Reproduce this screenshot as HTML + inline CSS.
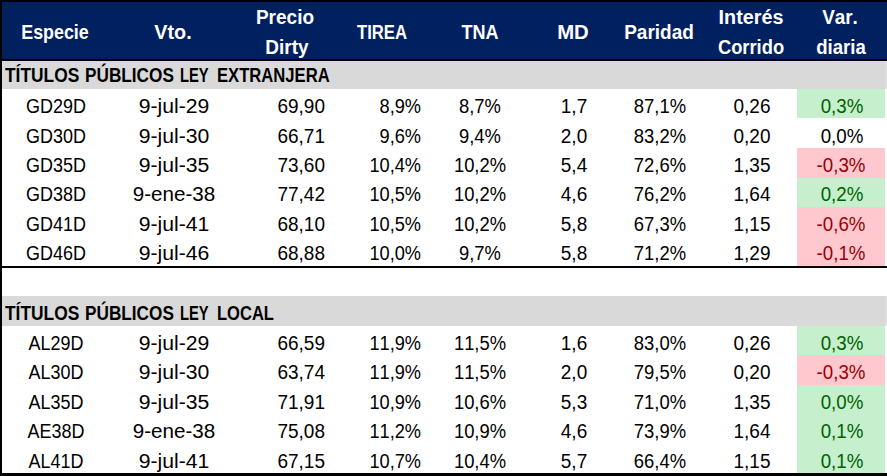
<!DOCTYPE html>
<html lang="es"><head><meta charset="utf-8"><title>Títulos Públicos</title>
<style>
html,body{margin:0;padding:0;background:#fff;}
body{width:887px;height:476px;overflow:hidden;position:relative;font-family:"Liberation Sans",sans-serif;}
#w{position:absolute;left:0;top:0;width:887px;height:476px;overflow:hidden;}
.b{position:absolute;}
.t{position:absolute;white-space:nowrap;font-kerning:none;font-variant-ligatures:none;line-height:24px;height:24px;}
</style></head><body><div id="w">
<div class="b" style="left:0px;top:0px;width:887px;height:476px;background:#000"></div>
<div class="b" style="left:2px;top:2px;width:885px;height:57px;background:#002060"></div>
<div class="b" style="left:2px;top:61px;width:885px;height:28px;background:#d9d9d9"></div>
<div class="b" style="left:2px;top:89px;width:885px;height:177px;background:#fff"></div>
<div class="b" style="left:2px;top:268px;width:885px;height:28px;background:#fff"></div>
<div class="b" style="left:2px;top:296px;width:885px;height:30px;background:#d9d9d9"></div>
<div class="b" style="left:2px;top:326px;width:885px;height:147px;background:#fff"></div>
<div class="b" style="left:886px;top:61px;width:1px;height:28px;background:#e4e4e4"></div>
<div class="b" style="left:886px;top:296px;width:1px;height:30px;background:#e4e4e4"></div>
<div class="b" style="left:797px;top:89px;width:88px;height:29px;background:#c6efce"></div>
<div class="t" style="left:-94.00px;top:94.14px;width:300px;text-align:center;color:#000;font-size:19.5px;transform:scaleX(0.9207692307692307);transform-origin:center center;">GD29D</div>
<div class="t" style="left:24.00px;top:94.14px;width:300px;text-align:center;color:#000;font-size:19.5px;transform:scaleX(1.0864102564102565);transform-origin:center center;">9-jul-29</div>
<div class="t" style="left:25.30px;top:94.14px;width:300px;text-align:right;color:#000;font-size:19.5px;transform:scaleX(0.9743589743589743);transform-origin:right center;">69,90</div>
<div class="t" style="left:121.30px;top:94.14px;width:300px;text-align:right;color:#000;font-size:19.5px;transform:scaleX(0.9334358974358974);transform-origin:right center;">8,9%</div>
<div class="t" style="left:330.00px;top:94.14px;width:300px;text-align:center;color:#000;font-size:19.5px;transform:scaleX(0.9431794871794872);transform-origin:center center;">8,7%</div>
<div class="t" style="left:424.00px;top:94.14px;width:300px;text-align:center;color:#000;font-size:19.5px;transform:scaleX(0.9743589743589743);transform-origin:center center;">1,7</div>
<div class="t" style="left:510.00px;top:94.14px;width:300px;text-align:center;color:#000;font-size:19.5px;transform:scaleX(0.9451282051282051);transform-origin:center center;">87,1%</div>
<div class="t" style="left:602.00px;top:94.14px;width:300px;text-align:center;color:#000;font-size:19.5px;transform:scaleX(0.9743589743589743);transform-origin:center center;">0,26</div>
<div class="t" style="left:691.50px;top:94.14px;width:300px;text-align:center;color:#006100;font-size:19.5px;transform:scaleX(0.9597435897435898);transform-origin:center center;">0,3%</div>
<div class="t" style="left:-94.00px;top:123.52px;width:300px;text-align:center;color:#000;font-size:19.5px;transform:scaleX(0.9207692307692307);transform-origin:center center;">GD30D</div>
<div class="t" style="left:24.00px;top:123.52px;width:300px;text-align:center;color:#000;font-size:19.5px;transform:scaleX(1.0864102564102565);transform-origin:center center;">9-jul-30</div>
<div class="t" style="left:25.30px;top:123.52px;width:300px;text-align:right;color:#000;font-size:19.5px;transform:scaleX(0.9743589743589743);transform-origin:right center;">66,71</div>
<div class="t" style="left:121.30px;top:123.52px;width:300px;text-align:right;color:#000;font-size:19.5px;transform:scaleX(0.9334358974358974);transform-origin:right center;">9,6%</div>
<div class="t" style="left:330.00px;top:123.52px;width:300px;text-align:center;color:#000;font-size:19.5px;transform:scaleX(0.9431794871794872);transform-origin:center center;">9,4%</div>
<div class="t" style="left:424.00px;top:123.52px;width:300px;text-align:center;color:#000;font-size:19.5px;transform:scaleX(0.9743589743589743);transform-origin:center center;">2,0</div>
<div class="t" style="left:510.00px;top:123.52px;width:300px;text-align:center;color:#000;font-size:19.5px;transform:scaleX(0.9451282051282051);transform-origin:center center;">83,2%</div>
<div class="t" style="left:602.00px;top:123.52px;width:300px;text-align:center;color:#000;font-size:19.5px;transform:scaleX(0.9743589743589743);transform-origin:center center;">0,20</div>
<div class="t" style="left:691.50px;top:123.52px;width:300px;text-align:center;color:#000;font-size:19.5px;transform:scaleX(0.9597435897435898);transform-origin:center center;">0,0%</div>
<div class="b" style="left:797px;top:148px;width:88px;height:30px;background:#ffc7ce"></div>
<div class="t" style="left:-94.00px;top:152.90px;width:300px;text-align:center;color:#000;font-size:19.5px;transform:scaleX(0.9207692307692307);transform-origin:center center;">GD35D</div>
<div class="t" style="left:24.00px;top:152.90px;width:300px;text-align:center;color:#000;font-size:19.5px;transform:scaleX(1.0864102564102565);transform-origin:center center;">9-jul-35</div>
<div class="t" style="left:25.30px;top:152.90px;width:300px;text-align:right;color:#000;font-size:19.5px;transform:scaleX(0.9743589743589743);transform-origin:right center;">73,60</div>
<div class="t" style="left:121.30px;top:152.90px;width:300px;text-align:right;color:#000;font-size:19.5px;transform:scaleX(0.9334358974358974);transform-origin:right center;">10,4%</div>
<div class="t" style="left:330.00px;top:152.90px;width:300px;text-align:center;color:#000;font-size:19.5px;transform:scaleX(0.9431794871794872);transform-origin:center center;">10,2%</div>
<div class="t" style="left:424.00px;top:152.90px;width:300px;text-align:center;color:#000;font-size:19.5px;transform:scaleX(0.9743589743589743);transform-origin:center center;">5,4</div>
<div class="t" style="left:510.00px;top:152.90px;width:300px;text-align:center;color:#000;font-size:19.5px;transform:scaleX(0.9451282051282051);transform-origin:center center;">72,6%</div>
<div class="t" style="left:602.00px;top:152.90px;width:300px;text-align:center;color:#000;font-size:19.5px;transform:scaleX(0.9743589743589743);transform-origin:center center;">1,35</div>
<div class="t" style="left:690.60px;top:152.90px;width:300px;text-align:center;color:#9c0006;font-size:19.5px;transform:scaleX(0.9597435897435898);transform-origin:center center;">-0,3%</div>
<div class="b" style="left:797px;top:178px;width:88px;height:29px;background:#c6efce"></div>
<div class="t" style="left:-94.00px;top:182.28px;width:300px;text-align:center;color:#000;font-size:19.5px;transform:scaleX(0.9207692307692307);transform-origin:center center;">GD38D</div>
<div class="t" style="left:24.00px;top:182.28px;width:300px;text-align:center;color:#000;font-size:19.5px;transform:scaleX(1.057179487179487);transform-origin:center center;">9-ene-38</div>
<div class="t" style="left:25.30px;top:182.28px;width:300px;text-align:right;color:#000;font-size:19.5px;transform:scaleX(0.9743589743589743);transform-origin:right center;">77,42</div>
<div class="t" style="left:121.30px;top:182.28px;width:300px;text-align:right;color:#000;font-size:19.5px;transform:scaleX(0.9334358974358974);transform-origin:right center;">10,5%</div>
<div class="t" style="left:330.00px;top:182.28px;width:300px;text-align:center;color:#000;font-size:19.5px;transform:scaleX(0.9431794871794872);transform-origin:center center;">10,2%</div>
<div class="t" style="left:424.00px;top:182.28px;width:300px;text-align:center;color:#000;font-size:19.5px;transform:scaleX(0.9743589743589743);transform-origin:center center;">4,6</div>
<div class="t" style="left:510.00px;top:182.28px;width:300px;text-align:center;color:#000;font-size:19.5px;transform:scaleX(0.9451282051282051);transform-origin:center center;">76,2%</div>
<div class="t" style="left:602.00px;top:182.28px;width:300px;text-align:center;color:#000;font-size:19.5px;transform:scaleX(0.9743589743589743);transform-origin:center center;">1,64</div>
<div class="t" style="left:691.50px;top:182.28px;width:300px;text-align:center;color:#006100;font-size:19.5px;transform:scaleX(0.9597435897435898);transform-origin:center center;">0,2%</div>
<div class="b" style="left:797px;top:207px;width:88px;height:30px;background:#ffc7ce"></div>
<div class="t" style="left:-94.00px;top:211.66px;width:300px;text-align:center;color:#000;font-size:19.5px;transform:scaleX(0.9207692307692307);transform-origin:center center;">GD41D</div>
<div class="t" style="left:24.00px;top:211.66px;width:300px;text-align:center;color:#000;font-size:19.5px;transform:scaleX(1.0864102564102565);transform-origin:center center;">9-jul-41</div>
<div class="t" style="left:25.30px;top:211.66px;width:300px;text-align:right;color:#000;font-size:19.5px;transform:scaleX(0.9743589743589743);transform-origin:right center;">68,10</div>
<div class="t" style="left:121.30px;top:211.66px;width:300px;text-align:right;color:#000;font-size:19.5px;transform:scaleX(0.9334358974358974);transform-origin:right center;">10,5%</div>
<div class="t" style="left:330.00px;top:211.66px;width:300px;text-align:center;color:#000;font-size:19.5px;transform:scaleX(0.9431794871794872);transform-origin:center center;">10,2%</div>
<div class="t" style="left:424.00px;top:211.66px;width:300px;text-align:center;color:#000;font-size:19.5px;transform:scaleX(0.9743589743589743);transform-origin:center center;">5,8</div>
<div class="t" style="left:510.00px;top:211.66px;width:300px;text-align:center;color:#000;font-size:19.5px;transform:scaleX(0.9451282051282051);transform-origin:center center;">67,3%</div>
<div class="t" style="left:602.00px;top:211.66px;width:300px;text-align:center;color:#000;font-size:19.5px;transform:scaleX(0.9743589743589743);transform-origin:center center;">1,15</div>
<div class="t" style="left:690.60px;top:211.66px;width:300px;text-align:center;color:#9c0006;font-size:19.5px;transform:scaleX(0.9597435897435898);transform-origin:center center;">-0,6%</div>
<div class="b" style="left:797px;top:237px;width:88px;height:29px;background:#ffc7ce"></div>
<div class="t" style="left:-94.00px;top:241.04px;width:300px;text-align:center;color:#000;font-size:19.5px;transform:scaleX(0.9207692307692307);transform-origin:center center;">GD46D</div>
<div class="t" style="left:24.00px;top:241.04px;width:300px;text-align:center;color:#000;font-size:19.5px;transform:scaleX(1.0864102564102565);transform-origin:center center;">9-jul-46</div>
<div class="t" style="left:25.30px;top:241.04px;width:300px;text-align:right;color:#000;font-size:19.5px;transform:scaleX(0.9743589743589743);transform-origin:right center;">68,88</div>
<div class="t" style="left:121.30px;top:241.04px;width:300px;text-align:right;color:#000;font-size:19.5px;transform:scaleX(0.9334358974358974);transform-origin:right center;">10,0%</div>
<div class="t" style="left:330.00px;top:241.04px;width:300px;text-align:center;color:#000;font-size:19.5px;transform:scaleX(0.9431794871794872);transform-origin:center center;">9,7%</div>
<div class="t" style="left:424.00px;top:241.04px;width:300px;text-align:center;color:#000;font-size:19.5px;transform:scaleX(0.9743589743589743);transform-origin:center center;">5,8</div>
<div class="t" style="left:510.00px;top:241.04px;width:300px;text-align:center;color:#000;font-size:19.5px;transform:scaleX(0.9451282051282051);transform-origin:center center;">71,2%</div>
<div class="t" style="left:602.00px;top:241.04px;width:300px;text-align:center;color:#000;font-size:19.5px;transform:scaleX(0.9743589743589743);transform-origin:center center;">1,29</div>
<div class="t" style="left:690.60px;top:241.04px;width:300px;text-align:center;color:#9c0006;font-size:19.5px;transform:scaleX(0.9597435897435898);transform-origin:center center;">-0,1%</div>
<div class="b" style="left:797px;top:326px;width:88px;height:29px;background:#c6efce"></div>
<div class="t" style="left:-94.00px;top:330.74px;width:300px;text-align:center;color:#000;font-size:19.5px;transform:scaleX(0.9207692307692307);transform-origin:center center;">AL29D</div>
<div class="t" style="left:24.00px;top:330.74px;width:300px;text-align:center;color:#000;font-size:19.5px;transform:scaleX(1.0864102564102565);transform-origin:center center;">9-jul-29</div>
<div class="t" style="left:25.30px;top:330.74px;width:300px;text-align:right;color:#000;font-size:19.5px;transform:scaleX(0.9743589743589743);transform-origin:right center;">66,59</div>
<div class="t" style="left:121.30px;top:330.74px;width:300px;text-align:right;color:#000;font-size:19.5px;transform:scaleX(0.9334358974358974);transform-origin:right center;">11,9%</div>
<div class="t" style="left:330.00px;top:330.74px;width:300px;text-align:center;color:#000;font-size:19.5px;transform:scaleX(0.9431794871794872);transform-origin:center center;">11,5%</div>
<div class="t" style="left:424.00px;top:330.74px;width:300px;text-align:center;color:#000;font-size:19.5px;transform:scaleX(0.9743589743589743);transform-origin:center center;">1,6</div>
<div class="t" style="left:510.00px;top:330.74px;width:300px;text-align:center;color:#000;font-size:19.5px;transform:scaleX(0.9451282051282051);transform-origin:center center;">83,0%</div>
<div class="t" style="left:602.00px;top:330.74px;width:300px;text-align:center;color:#000;font-size:19.5px;transform:scaleX(0.9743589743589743);transform-origin:center center;">0,26</div>
<div class="t" style="left:691.50px;top:330.74px;width:300px;text-align:center;color:#006100;font-size:19.5px;transform:scaleX(0.9597435897435898);transform-origin:center center;">0,3%</div>
<div class="b" style="left:797px;top:355px;width:88px;height:30px;background:#ffc7ce"></div>
<div class="t" style="left:-94.00px;top:360.22px;width:300px;text-align:center;color:#000;font-size:19.5px;transform:scaleX(0.9207692307692307);transform-origin:center center;">AL30D</div>
<div class="t" style="left:24.00px;top:360.22px;width:300px;text-align:center;color:#000;font-size:19.5px;transform:scaleX(1.0864102564102565);transform-origin:center center;">9-jul-30</div>
<div class="t" style="left:25.30px;top:360.22px;width:300px;text-align:right;color:#000;font-size:19.5px;transform:scaleX(0.9743589743589743);transform-origin:right center;">63,74</div>
<div class="t" style="left:121.30px;top:360.22px;width:300px;text-align:right;color:#000;font-size:19.5px;transform:scaleX(0.9334358974358974);transform-origin:right center;">11,9%</div>
<div class="t" style="left:330.00px;top:360.22px;width:300px;text-align:center;color:#000;font-size:19.5px;transform:scaleX(0.9431794871794872);transform-origin:center center;">11,5%</div>
<div class="t" style="left:424.00px;top:360.22px;width:300px;text-align:center;color:#000;font-size:19.5px;transform:scaleX(0.9743589743589743);transform-origin:center center;">2,0</div>
<div class="t" style="left:510.00px;top:360.22px;width:300px;text-align:center;color:#000;font-size:19.5px;transform:scaleX(0.9451282051282051);transform-origin:center center;">79,5%</div>
<div class="t" style="left:602.00px;top:360.22px;width:300px;text-align:center;color:#000;font-size:19.5px;transform:scaleX(0.9743589743589743);transform-origin:center center;">0,20</div>
<div class="t" style="left:690.60px;top:360.22px;width:300px;text-align:center;color:#9c0006;font-size:19.5px;transform:scaleX(0.9597435897435898);transform-origin:center center;">-0,3%</div>
<div class="b" style="left:797px;top:385px;width:88px;height:29px;background:#c6efce"></div>
<div class="t" style="left:-94.00px;top:389.70px;width:300px;text-align:center;color:#000;font-size:19.5px;transform:scaleX(0.9207692307692307);transform-origin:center center;">AL35D</div>
<div class="t" style="left:24.00px;top:389.70px;width:300px;text-align:center;color:#000;font-size:19.5px;transform:scaleX(1.0864102564102565);transform-origin:center center;">9-jul-35</div>
<div class="t" style="left:25.30px;top:389.70px;width:300px;text-align:right;color:#000;font-size:19.5px;transform:scaleX(0.9743589743589743);transform-origin:right center;">71,91</div>
<div class="t" style="left:121.30px;top:389.70px;width:300px;text-align:right;color:#000;font-size:19.5px;transform:scaleX(0.9334358974358974);transform-origin:right center;">10,9%</div>
<div class="t" style="left:330.00px;top:389.70px;width:300px;text-align:center;color:#000;font-size:19.5px;transform:scaleX(0.9431794871794872);transform-origin:center center;">10,6%</div>
<div class="t" style="left:424.00px;top:389.70px;width:300px;text-align:center;color:#000;font-size:19.5px;transform:scaleX(0.9743589743589743);transform-origin:center center;">5,3</div>
<div class="t" style="left:510.00px;top:389.70px;width:300px;text-align:center;color:#000;font-size:19.5px;transform:scaleX(0.9451282051282051);transform-origin:center center;">71,0%</div>
<div class="t" style="left:602.00px;top:389.70px;width:300px;text-align:center;color:#000;font-size:19.5px;transform:scaleX(0.9743589743589743);transform-origin:center center;">1,35</div>
<div class="t" style="left:691.50px;top:389.70px;width:300px;text-align:center;color:#006100;font-size:19.5px;transform:scaleX(0.9597435897435898);transform-origin:center center;">0,0%</div>
<div class="b" style="left:797px;top:414px;width:88px;height:30px;background:#c6efce"></div>
<div class="t" style="left:-94.00px;top:419.18px;width:300px;text-align:center;color:#000;font-size:19.5px;transform:scaleX(0.9207692307692307);transform-origin:center center;">AE38D</div>
<div class="t" style="left:24.00px;top:419.18px;width:300px;text-align:center;color:#000;font-size:19.5px;transform:scaleX(1.057179487179487);transform-origin:center center;">9-ene-38</div>
<div class="t" style="left:25.30px;top:419.18px;width:300px;text-align:right;color:#000;font-size:19.5px;transform:scaleX(0.9743589743589743);transform-origin:right center;">75,08</div>
<div class="t" style="left:121.30px;top:419.18px;width:300px;text-align:right;color:#000;font-size:19.5px;transform:scaleX(0.9334358974358974);transform-origin:right center;">11,2%</div>
<div class="t" style="left:330.00px;top:419.18px;width:300px;text-align:center;color:#000;font-size:19.5px;transform:scaleX(0.9431794871794872);transform-origin:center center;">10,9%</div>
<div class="t" style="left:424.00px;top:419.18px;width:300px;text-align:center;color:#000;font-size:19.5px;transform:scaleX(0.9743589743589743);transform-origin:center center;">4,6</div>
<div class="t" style="left:510.00px;top:419.18px;width:300px;text-align:center;color:#000;font-size:19.5px;transform:scaleX(0.9451282051282051);transform-origin:center center;">73,9%</div>
<div class="t" style="left:602.00px;top:419.18px;width:300px;text-align:center;color:#000;font-size:19.5px;transform:scaleX(0.9743589743589743);transform-origin:center center;">1,64</div>
<div class="t" style="left:691.50px;top:419.18px;width:300px;text-align:center;color:#006100;font-size:19.5px;transform:scaleX(0.9597435897435898);transform-origin:center center;">0,1%</div>
<div class="b" style="left:797px;top:444px;width:88px;height:29px;background:#c6efce"></div>
<div class="t" style="left:-94.00px;top:448.66px;width:300px;text-align:center;color:#000;font-size:19.5px;transform:scaleX(0.9207692307692307);transform-origin:center center;">AL41D</div>
<div class="t" style="left:24.00px;top:448.66px;width:300px;text-align:center;color:#000;font-size:19.5px;transform:scaleX(1.0864102564102565);transform-origin:center center;">9-jul-41</div>
<div class="t" style="left:25.30px;top:448.66px;width:300px;text-align:right;color:#000;font-size:19.5px;transform:scaleX(0.9743589743589743);transform-origin:right center;">67,15</div>
<div class="t" style="left:121.30px;top:448.66px;width:300px;text-align:right;color:#000;font-size:19.5px;transform:scaleX(0.9334358974358974);transform-origin:right center;">10,7%</div>
<div class="t" style="left:330.00px;top:448.66px;width:300px;text-align:center;color:#000;font-size:19.5px;transform:scaleX(0.9431794871794872);transform-origin:center center;">10,4%</div>
<div class="t" style="left:424.00px;top:448.66px;width:300px;text-align:center;color:#000;font-size:19.5px;transform:scaleX(0.9743589743589743);transform-origin:center center;">5,7</div>
<div class="t" style="left:510.00px;top:448.66px;width:300px;text-align:center;color:#000;font-size:19.5px;transform:scaleX(0.9451282051282051);transform-origin:center center;">66,4%</div>
<div class="t" style="left:602.00px;top:448.66px;width:300px;text-align:center;color:#000;font-size:19.5px;transform:scaleX(0.9743589743589743);transform-origin:center center;">1,15</div>
<div class="t" style="left:691.50px;top:448.66px;width:300px;text-align:center;color:#006100;font-size:19.5px;transform:scaleX(0.9597435897435898);transform-origin:center center;">0,1%</div>
<div class="t" style="left:4.60px;top:63.44px;width:300px;text-align:left;color:#000;font-size:19.5px;font-weight:bold;transform:scaleX(0.8905641025641026);transform-origin:left center;">TÍTULOS</div>
<div class="t" style="left:85.20px;top:63.44px;width:300px;text-align:left;color:#000;font-size:19.5px;font-weight:bold;transform:scaleX(0.8817948717948718);transform-origin:left center;">PÚBLICOS</div>
<div class="t" style="left:179.60px;top:63.44px;width:300px;text-align:left;color:#000;font-size:19.5px;font-weight:bold;transform:scaleX(0.7551282051282051);transform-origin:left center;">LEY</div>
<div class="t" style="left:217.00px;top:63.44px;width:300px;text-align:left;color:#000;font-size:19.5px;font-weight:bold;transform:scaleX(0.8525641025641025);transform-origin:left center;">EXTRANJERA</div>
<div class="t" style="left:4.60px;top:300.94px;width:300px;text-align:left;color:#000;font-size:19.5px;font-weight:bold;transform:scaleX(0.8905641025641026);transform-origin:left center;">TÍTULOS</div>
<div class="t" style="left:85.20px;top:300.94px;width:300px;text-align:left;color:#000;font-size:19.5px;font-weight:bold;transform:scaleX(0.8817948717948718);transform-origin:left center;">PÚBLICOS</div>
<div class="t" style="left:179.60px;top:300.94px;width:300px;text-align:left;color:#000;font-size:19.5px;font-weight:bold;transform:scaleX(0.7551282051282051);transform-origin:left center;">LEY</div>
<div class="t" style="left:217.00px;top:300.94px;width:300px;text-align:left;color:#000;font-size:19.5px;font-weight:bold;transform:scaleX(0.8476923076923076);transform-origin:left center;">LOCAL</div>
<div class="t" style="left:-95.00px;top:19.99px;width:300px;text-align:center;color:#fff;font-size:19.5px;font-weight:bold;transform:scaleX(0.9158974358974358);transform-origin:center center;">Especie</div>
<div class="t" style="left:23.25px;top:19.99px;width:300px;text-align:center;color:#fff;font-size:19.5px;font-weight:bold;transform:scaleX(1.0133333333333334);transform-origin:center center;">Vto.</div>
<div class="t" style="left:135.20px;top:4.99px;width:300px;text-align:center;color:#fff;font-size:19.5px;font-weight:bold;transform:scaleX(0.9743589743589743);transform-origin:center center;">Precio</div>
<div class="t" style="left:136.60px;top:35.14px;width:300px;text-align:center;color:#fff;font-size:19.5px;font-weight:bold;transform:scaleX(0.9743589743589743);transform-origin:center center;">Dirty</div>
<div class="t" style="left:232.00px;top:19.99px;width:300px;text-align:center;color:#fff;font-size:19.5px;font-weight:bold;transform:scaleX(0.8574358974358974);transform-origin:center center;">TIREA</div>
<div class="t" style="left:330.20px;top:19.99px;width:300px;text-align:center;color:#fff;font-size:19.5px;font-weight:bold;transform:scaleX(0.9256410256410256);transform-origin:center center;">TNA</div>
<div class="t" style="left:423.40px;top:19.99px;width:300px;text-align:center;color:#fff;font-size:19.5px;font-weight:bold;transform:scaleX(1.0425641025641026);transform-origin:center center;">MD</div>
<div class="t" style="left:509.40px;top:19.99px;width:300px;text-align:center;color:#fff;font-size:19.5px;font-weight:bold;transform:scaleX(0.9743589743589743);transform-origin:center center;">Paridad</div>
<div class="t" style="left:601.25px;top:4.99px;width:300px;text-align:center;color:#fff;font-size:19.5px;font-weight:bold;transform:scaleX(1.0133333333333334);transform-origin:center center;">Interés</div>
<div class="t" style="left:601.25px;top:35.14px;width:300px;text-align:center;color:#fff;font-size:19.5px;font-weight:bold;transform:scaleX(0.9402564102564102);transform-origin:center center;">Corrido</div>
<div class="t" style="left:690.00px;top:4.99px;width:300px;text-align:center;color:#fff;font-size:19.5px;font-weight:bold;transform:scaleX(0.9694871794871794);transform-origin:center center;">Var.</div>
<div class="t" style="left:690.75px;top:35.14px;width:300px;text-align:center;color:#fff;font-size:19.5px;font-weight:bold;transform:scaleX(0.9548717948717949);transform-origin:center center;">diaria</div>
</div></body></html>
